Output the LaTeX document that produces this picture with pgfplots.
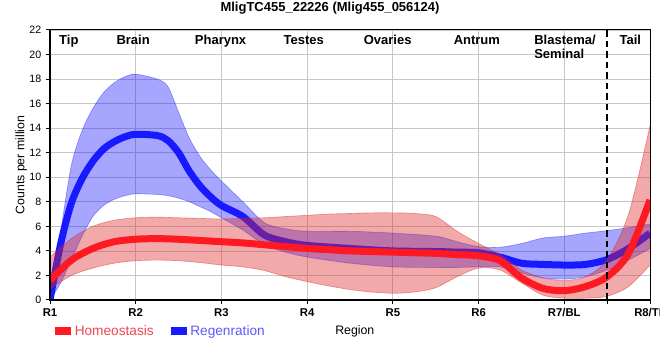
\documentclass[border=0pt]{standalone}
\usepackage{pgfplots}
\pgfplotsset{compat=1.18}
\usepackage{pgfplotstable}
\usepgfplotslibrary{fillbetween}
\usepackage{fontspec}
\setmainfont{Liberation Sans}
\definecolor{hline}{RGB}{255,25,35}
\definecolor{rline}{RGB}{25,25,255}
\definecolor{hband}{RGB}{220,40,40}
\definecolor{rband}{RGB}{0,0,255}
\definecolor{htext}{RGB}{240,70,80}
\definecolor{rtext}{RGB}{90,90,250}

\pgfplotstableread{
x lo mid hi
1 0.9 1.6 3.5
1.25 2.0 3.25 5.0
1.5 2.6 4.2 6.0
1.75 3.0 4.75 6.5
2 3.2 4.95 6.7
2.25 3.25 5.0 6.75
2.5 3.2 4.95 6.7
2.75 3.05 4.85 6.65
3 2.85 4.75 6.6
3.25 2.7 4.65 6.65
3.5 2.4 4.5 6.7
3.75 1.9 4.35 6.8
4 1.5 4.2 6.9
4.25 1.15 4.1 7.0
4.5 0.85 4.0 7.05
4.75 0.65 3.95 7.1
5 0.55 3.9 7.1
5.25 0.65 3.85 7.05
5.5 1.0 3.8 6.8
5.75 1.9 3.7 5.6
6 2.6 3.6 4.6
6.25 2.45 3.2 3.7
6.5 1.4 1.8 2.45
6.75 0.4 0.95 1.8
7 0.15 0.76 1.6
7.25 0.15 1.1 1.9
7.5 0.3 1.9 3.3
7.75 1.1 3.8 7.0
8 2.85 8.15 14.2
}\homeo

\pgfplotstableread{
x lo mid hi
1 0 0 0.2
1.125 1.4 4.6 5.6
1.25 3.3 7.9 11.0
1.375 5.2 9.9 13.8
1.5 6.8 11.3 15.6
1.625 7.7 12.3 16.9
1.75 8.2 12.9 17.7
1.875 8.5 13.3 18.2
2 8.65 13.5 18.4
2.25 8.6 13.4 18.0
2.375 8.5 13.0 17.4
2.5 8.3 12.0 15.3
2.625 8.0 10.5 13.2
2.75 7.6 9.3 11.7
2.875 7.2 8.4 10.6
3 6.7 7.7 9.7
3.25 5.7 6.8 8.0
3.5 4.5 5.3 6.3
3.75 3.9 4.75 5.8
4 3.5 4.45 5.6
4.5 3.0 4.2 5.6
5 2.7 4.0 5.45
5.5 2.65 3.95 5.2
5.75 2.65 3.9 4.75
6 2.7 3.85 4.35
6.25 2.7 3.5 4.3
6.5 2.2 3.0 4.6
6.75 1.8 2.9 5.05
7 1.7 2.85 5.2
7.25 1.9 2.9 5.45
7.5 2.45 3.3 5.65
7.75 3.26 4.2 5.9
8 4.2 5.45 6.2
}\regen

\begin{document}
\begin{tikzpicture}
\begin{axis}[
  at={(0pt,0pt)}, anchor=south west,
  scale only axis, width=450pt, height=202.5pt,
  xmin=1, xmax=8, ymin=0, ymax=22,
  xtick={1,2,3,4,5,6,7,8},
  xticklabels={R1,R2,R3,R4,R5,R6,R7/BL,R8/TL},
  extra x ticks={7.5}, extra x tick labels={}, extra x tick style={grid=none},
  ytick={0,2,...,22},
  grid=major, major grid style={draw=black!22, line width=0.6pt},
  axis line style={black, line width=0.75pt},
  tick style={black, line width=0.75pt}, major tick length=3pt, tick align=outside,
  xtick pos=bottom, ytick pos=left,
  /pgf/number format/assume math mode=true,
  yticklabel style={font=\fontsize{8}{9.6}\selectfont},
  xticklabel style={font=\bfseries\fontsize{8.5}{10}\selectfont},
  xlabel={Region},
  xlabel style={at={(axis description cs:0.508,-0.115)}, anchor=center, font=\fontsize{9.25}{11}\selectfont},
  ylabel={Counts per million},
  ylabel style={at={(axis description cs:-0.048,0.5)}, anchor=center, font=\fontsize{9.25}{11}\selectfont},
  title={MligTC455\_22226 (Mlig455\_056124)},
  every axis title shift=0pt,
  title style={at={(axis description cs:0.4667,1.0815)}, anchor=center, font=\bfseries\fontsize{9.75}{11}\selectfont},
  legend columns=2,
  legend style={at={(axis description cs:0.0083,-0.115)}, anchor=west, draw=none, fill=none, inner sep=0pt,
    font=\fontsize{10.25}{12}\selectfont, nodes={inner sep=0pt}},
  legend image code/.code={\fill[#1] (0pt,-2.625pt) rectangle (11.25pt,2.625pt);},
  set layers, /tikz/fill between/on layer=main,
  after end axis/.code={\draw[line width=1.5pt, black] (rel axis cs:0,1) -- (rel axis cs:0,0) -- (rel axis cs:1,0);},
]
\addlegendimage{color=hline}
\addlegendentry{\hspace*{3pt}\textcolor{htext}{Homeostasis}\hspace*{12.75pt}}
\addlegendimage{color=rline}
\addlegendentry{\hspace*{3pt}\textcolor{rtext}{Regenration}}

% Regeneration band
\addplot[name path=bu, draw=rband, draw opacity=0.35, line width=0.5pt, smooth, forget plot] table[x=x,y=hi]{\regen};
\addplot[name path=bl, draw=rband, draw opacity=0.35, line width=0.5pt, smooth, forget plot] table[x=x,y=lo]{\regen};
\addplot[fill=rband, fill opacity=0.35, draw=none, forget plot] fill between[of=bu and bl];
\addplot[rline, line width=5.25pt, smooth, forget plot] table[x=x,y=mid]{\regen};

% Homeostasis band
\addplot[name path=hu, draw=hband, draw opacity=0.45, line width=0.5pt, smooth, forget plot] table[x=x,y=hi]{\homeo};
\addplot[name path=hl, draw=hband, draw opacity=0.45, line width=0.5pt, smooth, forget plot] table[x=x,y=lo]{\homeo};
\addplot[fill=hband, fill opacity=0.4, draw=none, forget plot] fill between[of=hu and hl];
\addplot[hline, line width=5.25pt, smooth, forget plot] table[x=x,y=mid]{\homeo};

\addplot[black, line width=1.75pt, dash pattern=on 4.9pt off 3pt, forget plot] coordinates {(7.5,0) (7.5,22)};

\begin{scope}[every node/.style={font=\bfseries\fontsize{9.75}{11}\selectfont, inner sep=0pt}]
\node[anchor=base] at (axis cs:1.22,20.84) {Tip};
\node[anchor=base] at (axis cs:1.97,20.84) {Brain};
\node[anchor=base] at (axis cs:2.99,20.84) {Pharynx};
\node[anchor=base] at (axis cs:3.96,20.84) {Testes};
\node[anchor=base] at (axis cs:4.94,20.84) {Ovaries};
\node[anchor=base] at (axis cs:5.98,20.84) {Antrum};
\node[anchor=base west] at (axis cs:6.647,20.84) {Blastema/};
\node[anchor=base west] at (axis cs:6.647,19.64) {Seminal};
\node[anchor=base] at (axis cs:7.77,20.84) {Tail};
\end{scope}
\end{axis}
\pgfresetboundingbox
\path[use as bounding box] (-37.5pt,-45pt) rectangle (457.5pt,225pt);
\end{tikzpicture}
\end{document}
